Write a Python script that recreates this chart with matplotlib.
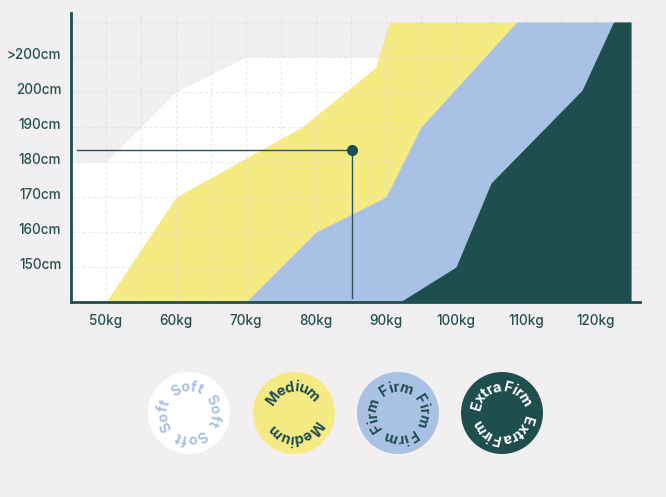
import numpy as np
import matplotlib
matplotlib.use("Agg")
import matplotlib.pyplot as plt
import matplotlib.transforms as mtransforms
from matplotlib.patches import Circle
from matplotlib.font_manager import FontProperties

# data
soft_kg = [45, 50, 60, 70, 125]
soft_cm = [180, 180, 200, 210, 210]
medium_cm = [140, 170, 190, 207, 220]
medium_kg = [50, 60, 78, 88.5, 90.5]
firm_cm = [140, 160, 170, 190, 220]
firm_kg = [70, 80, 90, 95, 108.7]
extra_cm = [140, 150, 174, 200.5, 220]
extra_kg = [92, 100, 105, 118, 122.5]

user_kg = 85.2
user_cm = 183.3

x_ticks = [50, 60, 70, 80, 90, 100, 110, 120]
x_labels = ["50kg", "60kg", "70kg", "80kg", "90kg", "100kg", "110kg", "120kg"]
y_ticks = [150, 160, 170, 180, 190, 200, 210]
y_labels = ["150cm", "160cm", "170cm", "180cm", "190cm", "200cm", ">200cm"]

legend_names = ["Soft", "Medium", "Firm", "Extra Firm"]
legend_copies = [4, 2, 4, 2]

BG = "#f1efef"
WHITE = "#ffffff"
YELLOW = "#f6eb83"
BLUE = "#a9c1e5"
DARK = "#1f4e4f"
TEXT = "#24504f"
legend_fill = [WHITE, YELLOW, BLUE, DARK]
legend_text = [BLUE, DARK, DARK, WHITE]
legend_tracking = [1.4, 0.8, 1.2, 0.3]

KG_MIN, KG_MAX = 45, 125
CM_MIN, CM_MAX = 140, 220

plt.rcParams["font.family"] = ["Inter", "DejaVu Sans"]

fig = plt.figure(figsize=(6.66, 4.97), dpi=100, facecolor=BG)
ax = fig.add_axes([71 / 666, 1 - 302 / 497, 569 / 666, 289 / 497])
ax.set_facecolor(BG)

ax.fill_between(soft_kg, CM_MIN, soft_cm, color=WHITE, lw=0, zorder=1)
ax.fill_betweenx(medium_cm, medium_kg, KG_MAX, color=YELLOW, lw=0, zorder=2)
ax.fill_betweenx(firm_cm, firm_kg, KG_MAX, color=BLUE, lw=0, zorder=3)
ax.fill_betweenx(extra_cm, extra_kg, KG_MAX, color=DARK, lw=0, zorder=4)

ax.set_xlim(KG_MIN, KG_MIN + 569 / 7)
ax.set_ylim(CM_MIN, CM_MIN + 289 / 3.5)

ax.set_xticks(x_ticks)
ax.set_xticklabels(x_labels)
ax.set_xticks(np.arange(55, 126, 10), minor=True)
ax.set_yticks(y_ticks)
ax.set_yticklabels(y_labels)
ax.set_yticks([220], minor=True)
ax.tick_params(which="both", length=0, colors=TEXT, labelsize=9.7)
ax.tick_params(axis="x", pad=9)
ax.tick_params(axis="y", pad=7)
shift_up = mtransforms.ScaledTranslation(0, 3 / 100, fig.dpi_scale_trans)
for lbl in ax.get_xticklabels():
    lbl.set_fontweight("medium")
for lbl in ax.get_yticklabels():
    lbl.set_fontweight("medium")
    lbl.set_transform(lbl.get_transform() + shift_up)

ax.grid(which="both", color="#dcdcdc", alpha=0.6, lw=0.8, ls=(0, (3, 2)), zorder=5)
ax.set_axisbelow(False)

for side in ["top", "right"]:
    ax.spines[side].set_visible(False)
for side in ["left", "bottom"]:
    ax.spines[side].set_color(DARK)
    ax.spines[side].set_linewidth(2)
    ax.spines[side].set_zorder(7)

# marker for the example user
ax.plot([45.9, user_kg], [user_cm, user_cm], color="#2a5457", lw=1, zorder=6)
ax.plot([user_kg, user_kg], [141.2, user_cm], color="#2a5457", lw=1, zorder=6)
ax.plot([user_kg], [user_cm], "o", ms=7, color=DARK, zorder=7)

# legend badges with text running round the circle
lax = fig.add_axes([0, 0, 1, 1])
lax.set_xlim(0, 666)
lax.set_ylim(497, 0)
lax.axis("off")

fp = FontProperties(family=["Inter", "DejaVu Sans"], weight="bold", size=10.5)
renderer = fig.canvas.get_renderer()
WORD_GAP = 4.0


def char_width(ch):
    if ch == " ":
        return WORD_GAP
    w, h, d = renderer.get_text_width_height_descent(ch, fp, ismath=False)
    return w


def circular_text(cx, cy, r, s, center_deg, color, tracking=0.8, r_space=None):
    r_space = r_space or r + 5
    widths = [char_width(ch) for ch in s]
    edges = np.concatenate([[0], np.cumsum(np.array(widths) + tracking)])
    total = edges[-1] - tracking
    start = np.radians(center_deg) + total / (2 * r_space)
    for i, ch in enumerate(s):
        if ch == " ":
            continue
        mid = edges[i] + widths[i] / 2
        th = start - mid / r_space
        lax.text(cx + r * np.cos(th), cy - r * np.sin(th), ch,
                 rotation=np.degrees(th) - 90, rotation_mode="anchor",
                 ha="center", va="baseline", color=color,
                 fontproperties=fp)


centers_x = [189, 294, 398, 502]
for cx, name, n, fc, tc, trk in zip(centers_x, legend_names, legend_copies,
                                    legend_fill, legend_text, legend_tracking):
    lax.add_patch(Circle((cx, 413), 41, color=fc, lw=0))
    for k in range(n):
        circular_text(cx, 413, 21.5, name, 95 - k * 360 / n, tc,
                      tracking=trk, r_space=28)

fig.savefig("out.png", dpi=100, facecolor=BG)
